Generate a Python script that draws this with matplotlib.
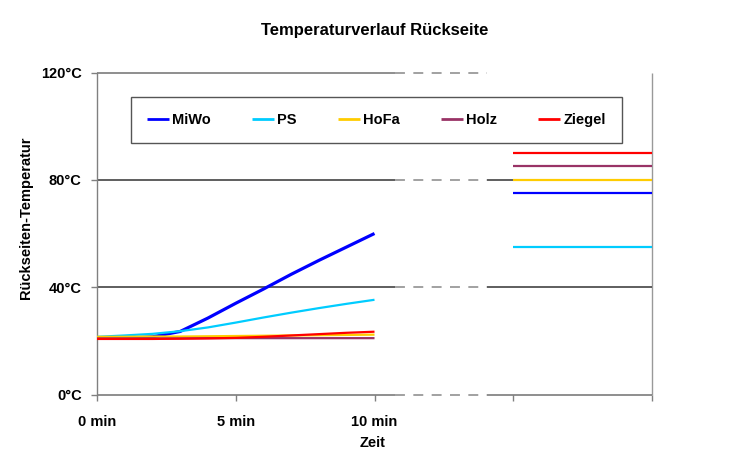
import matplotlib
matplotlib.use("Agg")
import matplotlib.pyplot as plt

plt.rcParams['font.family'] = ['Liberation Sans', 'DejaVu Sans']
plt.rcParams['font.weight'] = 'bold'

# ---- data ----
minutes = [0, 1, 2, 3, 4, 5, 6, 7, 8, 9, 10]
miwo   = [21.0, 21.0, 21.5, 23.5, 28.5, 34.0, 39.3, 44.8, 50.0, 55.0, 60.0]
ps     = [21.5, 22.0, 22.6, 23.6, 25.0, 26.8, 28.7, 30.5, 32.2, 33.8, 35.3]
hofa   = [21.5, 21.5, 21.6, 21.6, 21.7, 21.8, 21.9, 22.0, 22.1, 22.2, 22.3]
holz   = [20.9, 20.9, 20.9, 20.9, 21.0, 21.0, 21.0, 21.0, 21.0, 21.0, 21.0]
ziegel = [20.7, 20.7, 20.7, 20.8, 20.9, 21.1, 21.5, 22.0, 22.5, 23.0, 23.4]

final_x = [15, 20]
final_vals = {"MiWo": 75, "PS": 55, "HoFa": 80, "Holz": 85, "Ziegel": 90}

series_names = ["MiWo", "PS", "HoFa", "Holz", "Ziegel"]
series_vals = [miwo, ps, hofa, holz, ziegel]
colors = ["#0000FF", "#00CCFF", "#FFCC00", "#993366", "#FF0000"]
widths = [2.3, 1.6, 1.6, 1.6, 1.6]

x_ticks = [0, 5, 10, 15, 20]
x_ticklabels = ["0 min", "5 min", "10 min", "", ""]
y_ticks = [0, 40, 80, 120]
y_ticklabels = ["0°C", "40°C", "80°C", "120°C"]

title = "Temperaturverlauf Rückseite"
xlabel = "Zeit"
ylabel = "Rückseiten-Temperatur"

# break region of the time axis
brk0, brk1 = 10.74, 14.05

fig = plt.figure(figsize=(7.5, 4.67), dpi=100, facecolor="white")
ax = fig.add_axes([97/750, 1-394.5/467, 555/750, 322/467])
ax.set_xlim(0, 20)
ax.set_ylim(0, 120)

# grid / frame lines with broken section
dash = (0, (6.5, 5.5))
for yv in y_ticks:
    col = "#707070" if yv in (0, 120) else "#333333"
    ax.hlines(yv, 0, brk0, color=col, lw=1.1, zorder=2, clip_on=False)
    ax.hlines(yv, brk0, brk1, color="#888888", lw=1.1, linestyles=dash,
              zorder=2, clip_on=False)
    if yv != 120:
        ax.hlines(yv, brk1, 20, color=col, lw=1.1, zorder=2, clip_on=False)
ax.vlines(20, 0, 120, color="#999999", lw=1, zorder=1, clip_on=False)

# curves
for name, vals, c, w in zip(series_names, series_vals, colors, widths):
    ax.plot(minutes, vals, color=c, lw=w, label=name, zorder=3,
            solid_capstyle="butt")
    ax.plot(final_x, [final_vals[name]] * 2, color=c, lw=1.6, zorder=3,
            solid_capstyle="butt")

for s in ["top", "right", "bottom"]:
    ax.spines[s].set_visible(False)
ax.spines["left"].set_color("#808080")
ax.spines["left"].set_linewidth(1)

ax.set_xticks(x_ticks)
ax.set_xticklabels(x_ticklabels, fontsize=10.5, fontweight="bold")
ax.set_yticks(y_ticks)
ax.set_yticklabels(y_ticklabels, fontsize=10.5, fontweight="bold")
ax.tick_params(axis="both", direction="out", length=4, width=1, color="#808080")
ax.tick_params(axis="x", pad=11)
ax.tick_params(axis="y", pad=7)

fig.text(375/750, 1-30/467, title, ha="center", va="center",
         fontsize=12, fontweight="bold")
fig.text(373/750, 1-443/467, xlabel, ha="center", va="center",
         fontsize=10.5, fontweight="bold")
fig.text(26/750, 1-218/467, ylabel, ha="center", va="center", rotation=90,
         fontsize=10.5, fontweight="bold")

leg = fig.legend(loc="upper left", bbox_to_anchor=(131/750, 1-97/467),
                 ncol=5, frameon=True, fancybox=False, shadow=False,
                 handlelength=1.5, handletextpad=0.2, columnspacing=2.85,
                 borderpad=1.1, borderaxespad=0,
                 prop={"size": 10.5, "weight": "bold"})
leg.get_frame().set_edgecolor("#555555")
leg.get_frame().set_linewidth(1)
leg.get_frame().set_alpha(1)
for h in leg.get_lines():
    h.set_linewidth(2)

fig.savefig("out.png", dpi=100, facecolor="white")
